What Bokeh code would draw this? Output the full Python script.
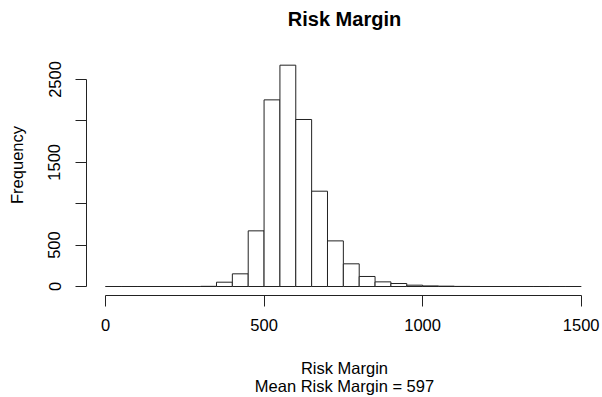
from bokeh.plotting import figure
from bokeh.models import FixedTicker, Range1d
from bokeh.embed import file_html
from bokeh.resources import INLINE

# Histogram data (bin width 50, from 0 to 1500)
bin_left = [0, 50, 100, 150, 200, 250, 300, 350, 400, 450, 500, 550, 600, 650, 700,
            750, 800, 850, 900, 950, 1000, 1050, 1100, 1150, 1200, 1250, 1300, 1350, 1400, 1450]
bin_right = [50, 100, 150, 200, 250, 300, 350, 400, 450, 500, 550, 600, 650, 700, 750,
             800, 850, 900, 950, 1000, 1050, 1100, 1150, 1200, 1250, 1300, 1350, 1400, 1450, 1500]
counts = [0, 0, 0, 0, 0, 0, 2, 52, 153, 672, 2254, 2673, 2017, 1151, 551,
          274, 121, 56, 36, 16, 7, 4, 1, 0, 0, 0, 0, 0, 0, 0]
zeros = [0] * len(counts)

x_ticks = [0, 500, 1000, 1500]
y_ticks = [0, 500, 1000, 1500, 2000, 2500]
y_label_overrides = {1000: "", 2000: ""}

FONT = "Liberation Sans"

# frame: x 86..602, y 34..295 (pixels); 0 at x=105, 1500 at x=580.7; 0 at y=286, 2500 at y=79
px_per_x = 475.7 / 1500
px_per_y = 207.0 / 2500
y_start = -9 / px_per_y
y_end = y_start + 261 / px_per_y

p = figure(width=602, height=397, output_backend="svg", toolbar_location=None,
           title="Risk Margin",
           x_range=Range1d(-19 / px_per_x, 1500 + 21.3 / px_per_x),
           y_range=Range1d(y_start, y_end),
           min_border_left=86, min_border_right=0, min_border_bottom=102, min_border_top=0)

p.quad(left=bin_left, right=bin_right, bottom=zeros, top=counts,
       fill_color="white", line_color="#222222", line_width=1)

p.title.text_font = FONT
p.title.text_font_size = "20px"
p.title.text_font_style = "bold"
p.title.align = "center"
p.title.text_color = "black"

p.grid.visible = False
p.outline_line_color = None
p.background_fill_color = "white"
p.border_fill_color = "white"

for ax in (p.xaxis[0], p.yaxis[0]):
    ax.axis_line_color = "#222222"
    ax.major_tick_line_color = "#222222"
    ax.major_tick_out = 11
    ax.major_tick_in = 0
    ax.minor_tick_line_color = None
    ax.major_label_text_font = FONT
    ax.major_label_text_font_size = "16.5px"
    ax.major_label_text_color = "black"
    ax.axis_label_text_font = FONT
    ax.axis_label_text_font_size = "16.5px"
    ax.axis_label_text_font_style = "normal"
    ax.axis_label_text_color = "black"

p.xaxis.ticker = FixedTicker(ticks=x_ticks)
p.xaxis.bounds = (x_ticks[0], x_ticks[-1])
p.xaxis.major_label_standoff = 12
p.xaxis.axis_label = "Risk Margin\nMean Risk Margin = 597"
p.xaxis.axis_label_text_line_height = 1.0
p.xaxis.axis_label_standoff = 25

p.yaxis.ticker = FixedTicker(ticks=y_ticks)
p.yaxis.bounds = (y_ticks[0], y_ticks[-1])
p.yaxis.major_label_overrides = y_label_overrides
p.yaxis.major_label_orientation = "vertical"
p.yaxis.major_label_standoff = 15
p.yaxis.axis_label = "Frequency"
p.yaxis.axis_label_standoff = 20

open("out.html", "w").write(file_html(p, INLINE))
